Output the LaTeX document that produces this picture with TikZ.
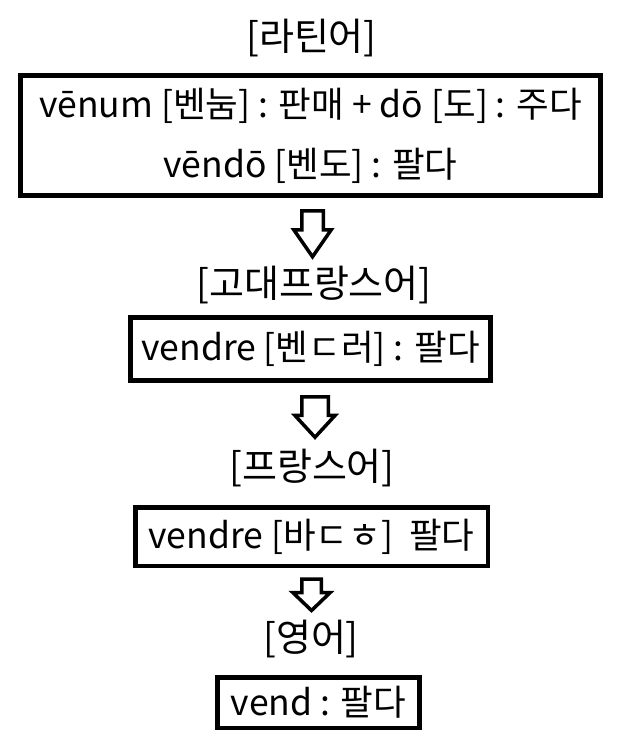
\documentclass[tikz,border=0pt]{standalone}
\usepackage{fontspec}
\setmainfont{Noto Sans CJK KR}

\tikzset{
  langname/.style={font=\fontsize{38}{44}\selectfont, inner sep=0pt},
  wordbox/.style={draw, line width=4.5pt, align=center, inner sep=0pt,
    font=\fontsize{35.5}{60}\selectfont},
  fatarrow/.style={draw, line width=3.5pt, fill=white, line join=miter},
}

\begin{document}
\begin{tikzpicture}[x=1pt,y=-1pt]
    \useasboundingbox (0,0) rectangle (637,752);
    % Latin
    \node[langname] (latin) at (311.5,38) {[라틴어]};
    \node[wordbox, minimum width=580pt, minimum height=120pt] (latinbox) at (310.5,135.5)
        {vēnum [벤눔] : 판매 + dō [도] : 주다\\ vēndō [벤도] : 팔다};
    \draw[fatarrow] ([xshift=-8.75pt,yshift=-13pt]latinbox.south) -- ++(21.5,0) -- ++(0,19)
        -- ++(8,0) -- ++(-18.75,27) -- ++(-18.75,-27) -- ++(8,0) -- cycle;
    % Old French
    \node[langname] (oldfr) at (314,285) {[고대프랑스어]};
    \node[wordbox, minimum width=360pt, minimum height=63pt] (oldfrbox) at (310.5,349)
        {vendre [벤ㄷ러] : 팔다};
    \draw[fatarrow] ([xshift=-8.75pt,yshift=-14pt]oldfrbox.south) -- ++(26.5,0) -- ++(0,18.5)
        -- ++(7,0) -- ++(-20.25,22) -- ++(-20.25,-22) -- ++(7,0) -- cycle;
    % French
    \node[langname] (french) at (312,468) {[프랑스어]};
    \node[wordbox, minimum width=352.5pt, minimum height=58.5pt] (frenchbox) at (311.5,536.5)
        {vendre [바ㄷㅎ]~ 팔다};
    \draw[fatarrow] ([xshift=-9.75pt,yshift=-11pt]frenchbox.south) -- ++(19.5,0) -- ++(0,13.5)
        -- ++(9,0) -- ++(-18.75,18) -- ++(-18.75,-18) -- ++(9,0) -- cycle;
    % English
    \node[langname] (english) at (311,639) {[영어]};
    \node[wordbox, minimum width=202pt, minimum height=50.5pt] (englishbox) at (318.5,702.5)
        {vend : 팔다};
\end{tikzpicture}
\end{document}
